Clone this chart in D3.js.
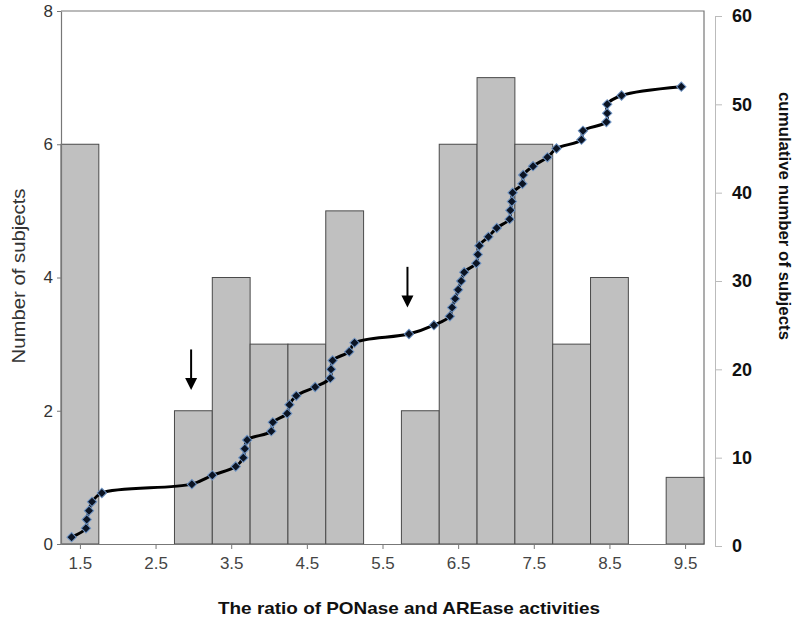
<!DOCTYPE html>
<html>
<head>
<meta charset="utf-8">
<script src="https://cdn.jsdelivr.net/npm/d3@7"></script>
<style>
  body { margin: 0; background: #fff; }
  svg { display: block; font-family: "Liberation Sans", Arial, sans-serif; }
</style>
</head>
<body>
<div id="chart"></div>
<script>
// histogram bins (centre of each 0.5-wide bin) and counts
var binCenters = [1.5, 3.0, 3.5, 4.0, 4.5, 5.0, 6.0, 6.5, 7.0, 7.5, 8.0, 8.5, 9.5];
var binCounts  = [6, 2, 4, 3, 3, 5, 2, 6, 7, 6, 3, 4, 1];

// sorted ratio of each subject, cumulative count = rank
var ratios = [1.39, 1.58, 1.59, 1.62, 1.66, 1.79, 2.98, 3.25, 3.56, 3.66,
              3.68, 3.71, 4.03, 4.05, 4.24, 4.27, 4.36, 4.61, 4.81, 4.82,
              4.84, 5.06, 5.13, 5.85, 6.18, 6.39, 6.42, 6.46, 6.50, 6.54,
              6.58, 6.74, 6.76, 6.78, 6.90, 7.01, 7.18, 7.19, 7.21, 7.22,
              7.35, 7.36, 7.49, 7.68, 7.80, 8.13, 8.15, 8.46, 8.47, 8.47,
              8.66, 9.45];
var cumulative = ratios.map(function(r, i) { return i + 1; });

var xTicks = [1.5, 2.5, 3.5, 4.5, 5.5, 6.5, 7.5, 8.5, 9.5];
var leftTicks = [0, 2, 4, 6, 8];
var rightTicks = [0, 10, 20, 30, 40, 50, 60];

// arrows: x position and top / tip in left-axis units
var arrowX = [2.97, 5.83];
var arrowTop = [2.92, 4.16];
var arrowTip = [2.31, 3.55];

var W = 800, H = 625;
var svg = d3.select('#chart').append('svg')
  .attr('width', W)
  .attr('height', H);

var x = d3.scaleLinear().domain([1.25, 9.75]).range([61, 704]);
var yL = d3.scaleLinear().domain([0, 8]).range([544, 11]);
var yR = d3.scaleLinear().domain([0, 60]).range([546, 16]);

// plot frame (top and right)
svg.append('path')
  .attr('d', 'M' + x(1.25) + ',' + yL(8) + 'H' + x(9.75) + 'V' + yL(0))
  .attr('fill', 'none')
  .attr('stroke', '#777')
  .attr('stroke-width', 1.2);

// bars
var bars = binCenters.map(function(c, i) { return {c: c, n: binCounts[i]}; });
svg.selectAll('rect.bar')
  .data(bars)
  .enter().append('rect')
  .attr('class', 'bar')
  .attr('x', function(d) { return x(d.c - 0.25); })
  .attr('width', function(d) { return x(d.c + 0.25) - x(d.c - 0.25); })
  .attr('y', function(d) { return yL(d.n); })
  .attr('height', function(d) { return yL(0) - yL(d.n); })
  .attr('fill', '#c0c0c0')
  .attr('stroke', '#4a4a4a')
  .attr('stroke-width', 1);

// left axis
var gL = svg.append('g')
  .attr('transform', 'translate(' + x(1.25) + ',0)')
  .call(d3.axisLeft(yL).tickValues(leftTicks).tickSize(4).tickSizeOuter(0).tickPadding(4));
gL.select('.domain').attr('stroke', '#777').attr('stroke-width', 1.2);
gL.selectAll('.tick line').attr('stroke', '#777');
gL.selectAll('.tick text')
  .attr('font-size', 17)
  .attr('fill', '#333')
  .attr('font-family', '"Liberation Sans", Arial, sans-serif');

// bottom axis
var gB = svg.append('g')
  .attr('transform', 'translate(0,' + yL(0) + ')')
  .call(d3.axisBottom(x).tickValues(xTicks).tickSize(5).tickSizeOuter(0).tickPadding(8)
    .tickFormat(d3.format('.1f')));
gB.select('.domain').attr('stroke', '#777').attr('stroke-width', 1.2);
gB.selectAll('.tick line').attr('stroke', '#777');
gB.selectAll('.tick text')
  .attr('font-size', 17)
  .attr('fill', '#444')
  .attr('font-family', '"Liberation Sans", Arial, sans-serif');

// right axis
var gR = svg.append('g')
  .attr('transform', 'translate(715,0)')
  .call(d3.axisRight(yR).tickValues(rightTicks).tickSize(7).tickSizeOuter(0).tickPadding(10));
gR.select('.domain').attr('stroke', '#bbb');
gR.selectAll('.tick line').attr('stroke', '#bbb');
gR.selectAll('.tick text')
  .attr('font-size', 18)
  .attr('font-weight', 'bold')
  .attr('fill', '#111')
  .attr('font-family', '"Liberation Sans", Arial, sans-serif');

// cumulative curve
var pts = ratios.map(function(r, i) { return [x(r), yR(cumulative[i])]; });
svg.append('path')
  .datum(pts)
  .attr('d', d3.line().curve(d3.curveCatmullRom.alpha(0.5)))
  .attr('fill', 'none')
  .attr('stroke', '#000')
  .attr('stroke-width', 3);

// diamond markers (square turned 45 degrees)
svg.selectAll('path.mark')
  .data(pts)
  .enter().append('path')
  .attr('class', 'mark')
  .attr('transform', function(d) { return 'translate(' + d[0] + ',' + d[1] + ') rotate(45)'; })
  .attr('d', d3.symbol().type(d3.symbolSquare).size(44))
  .attr('fill', '#0b1424')
  .attr('stroke', '#6f94c4')
  .attr('stroke-width', 1);

// arrows
arrowX.forEach(function(a, i) {
  var ax = x(a), y0 = yL(arrowTop[i]), y1 = yL(arrowTip[i]);
  svg.append('line')
    .attr('x1', ax).attr('x2', ax)
    .attr('y1', y0).attr('y2', y1 - 10)
    .attr('stroke', '#000')
    .attr('stroke-width', 2);
  svg.append('path')
    .attr('d', 'M' + (ax - 6) + ',' + (y1 - 12) + 'L' + (ax + 6) + ',' + (y1 - 12) + 'L' + ax + ',' + y1 + 'Z')
    .attr('fill', '#000');
});

// titles
svg.append('text')
  .attr('transform', 'translate(25,276) rotate(-90)')
  .attr('text-anchor', 'middle')
  .attr('font-size', 18)
  .attr('fill', '#333')
  .attr('textLength', 175)
  .attr('lengthAdjust', 'spacingAndGlyphs')
  .text('Number of subjects');

svg.append('text')
  .attr('transform', 'translate(779,216) rotate(90)')
  .attr('text-anchor', 'middle')
  .attr('font-size', 17)
  .attr('font-weight', 'bold')
  .attr('fill', '#111')
  .attr('textLength', 248)
  .attr('lengthAdjust', 'spacingAndGlyphs')
  .text('cumulative number of subjects');

svg.append('text')
  .attr('x', 409)
  .attr('y', 614)
  .attr('text-anchor', 'middle')
  .attr('font-size', 17)
  .attr('font-weight', 'bold')
  .attr('fill', '#111')
  .attr('textLength', 382)
  .attr('lengthAdjust', 'spacingAndGlyphs')
  .text('The ratio of PONase and AREase activities');
</script>
</body>
</html>
